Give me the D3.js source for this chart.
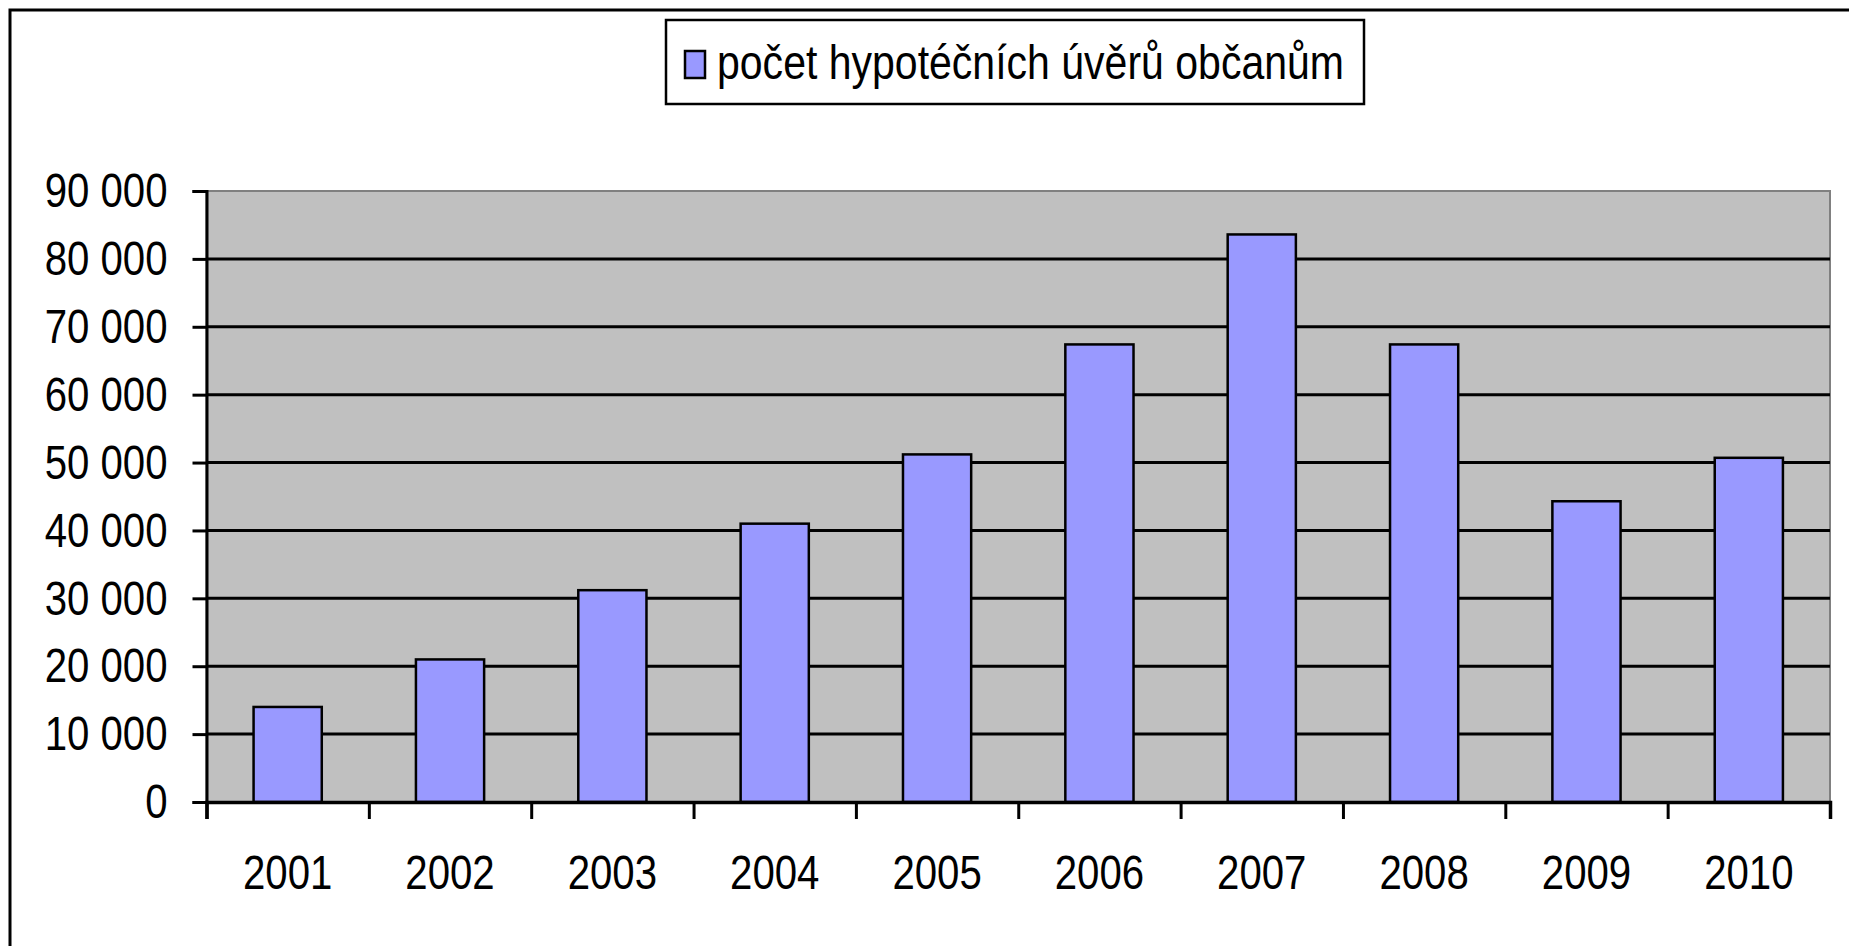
<!DOCTYPE html>
<html>

<head>
    <meta charset="UTF-8">
    <title>Hypotéky</title>
    <script src="https://d3js.org/d3.v7.min.js"></script>
    <style>
        body {
            margin: 0;
            background-color: white;
        }
        text {
            font-family: "Liberation Sans", Arial, sans-serif;
        }
    </style>
</head>

<body>
    <div id="chart"></div>
    <script>
        var years = ['2001', '2002', '2003', '2004', '2005', '2006', '2007', '2008', '2009', '2010'];
        var loans = [14000, 21000, 31200, 41000, 51200, 67400, 83600, 67400, 44300, 50700];
        var yTicks = [0, 10000, 20000, 30000, 40000, 50000, 60000, 70000, 80000, 90000];
        var seriesName = 'počet hypotéčních úvěrů občanům';

        (function(d3) {
            var width = 1849, height = 946;
            var left = 206.5, right = 1830, top = 191, bottom = 802;
            var fontSize = 49;
            var squeeze = 0.82;

            var svg = d3.select('#chart')
                .append('svg')
                    .attr('width', width)
                    .attr('height', height);

            svg.append('rect')
                .attr('width', width).attr('height', height)
                .attr('fill', 'white');

            // outer frame (runs off the right and bottom edges)
            svg.append('rect')
                .attr('x', 10).attr('y', 10)
                .attr('width', 1900).attr('height', 1000)
                .attr('fill', 'none')
                .attr('stroke', 'black')
                .attr('stroke-width', 3);

            var x = d3.scaleBand()
                .domain(years)
                .range([left, right])
                .paddingInner(0.58)
                .paddingOuter(0.29);

            var y = d3.scaleLinear()
                .domain([0, 90000])
                .range([bottom, top]);

            var fmt = d3.formatLocale({ decimal: ',', thousands: ' ', grouping: [3], currency: ['', ''] }).format(',d');

            // plot area
            svg.append('rect')
                .attr('x', left).attr('y', top)
                .attr('width', right - left).attr('height', bottom - top)
                .attr('fill', '#c0c0c0')
                .attr('stroke', '#808080')
                .attr('stroke-width', 2);

            // gridlines
            svg.append('g')
                .selectAll('line')
                .data(yTicks.filter(function(d) { return d > 0 && d < 90000; }))
                .enter()
                .append('line')
                    .attr('x1', left).attr('x2', right)
                    .attr('y1', function(d) { return y(d); })
                    .attr('y2', function(d) { return y(d); })
                    .attr('stroke', 'black')
                    .attr('stroke-width', 3);

            // bars
            svg.append('g')
                .selectAll('rect')
                .data(loans)
                .enter()
                .append('rect')
                    .attr('x', function(d, i) { return x(years[i]); })
                    .attr('y', function(d) { return y(d); })
                    .attr('width', x.bandwidth())
                    .attr('height', function(d) { return y(0) - y(d); })
                    .attr('fill', '#9999ff')
                    .attr('stroke', 'black')
                    .attr('stroke-width', 2.5);

            // y axis
            var yAxis = svg.append('g')
                .attr('transform', 'translate(' + left + ',0)')
                .call(d3.axisLeft(y).tickValues(yTicks).tickSize(14).tickFormat(fmt));
            yAxis.select('.domain').attr('stroke-width', 3);
            yAxis.selectAll('.tick line').attr('stroke-width', 3);
            yAxis.selectAll('.tick text')
                .attr('x', 0)
                .attr('transform', 'translate(-39,0) scale(' + squeeze + ',1)')
                .attr('font-size', fontSize)
                .attr('font-family', '"Liberation Sans", Arial, sans-serif')
                .attr('fill', 'black');

            // x axis: ticks at category boundaries
            var edge = d3.scaleLinear().domain([0, years.length]).range([left, right]);
            var xTickAxis = svg.append('g')
                .attr('transform', 'translate(0,' + bottom + ')')
                .call(d3.axisBottom(edge).tickValues(d3.range(years.length + 1)).tickSize(17).tickFormat(''));
            xTickAxis.select('.domain').attr('stroke-width', 3.5);
            xTickAxis.selectAll('.tick line').attr('stroke-width', 3);

            // x axis labels
            var xLabels = svg.append('g')
                .attr('transform', 'translate(0,' + bottom + ')')
                .call(d3.axisBottom(x).tickSize(0).tickPadding(52));
            xLabels.select('.domain').remove();
            xLabels.selectAll('.tick text')
                .attr('transform', 'scale(' + squeeze + ',1)')
                .attr('font-size', fontSize)
                .attr('font-family', '"Liberation Sans", Arial, sans-serif')
                .attr('fill', 'black');

            // legend
            var legend = svg.append('g');
            legend.append('rect')
                .attr('x', 666).attr('y', 20)
                .attr('width', 698).attr('height', 84)
                .attr('fill', 'white')
                .attr('stroke', 'black')
                .attr('stroke-width', 2.5);
            legend.append('rect')
                .attr('x', 685).attr('y', 51)
                .attr('width', 20).attr('height', 27)
                .attr('fill', '#9999ff')
                .attr('stroke', 'black')
                .attr('stroke-width', 2.5);
            legend.append('text')
                .attr('x', 717).attr('y', 79)
                .attr('font-size', fontSize)
                .attr('textLength', 627)
                .attr('lengthAdjust', 'spacingAndGlyphs')
                .text(seriesName);

        })(window.d3);
    </script>
</body>

</html>
